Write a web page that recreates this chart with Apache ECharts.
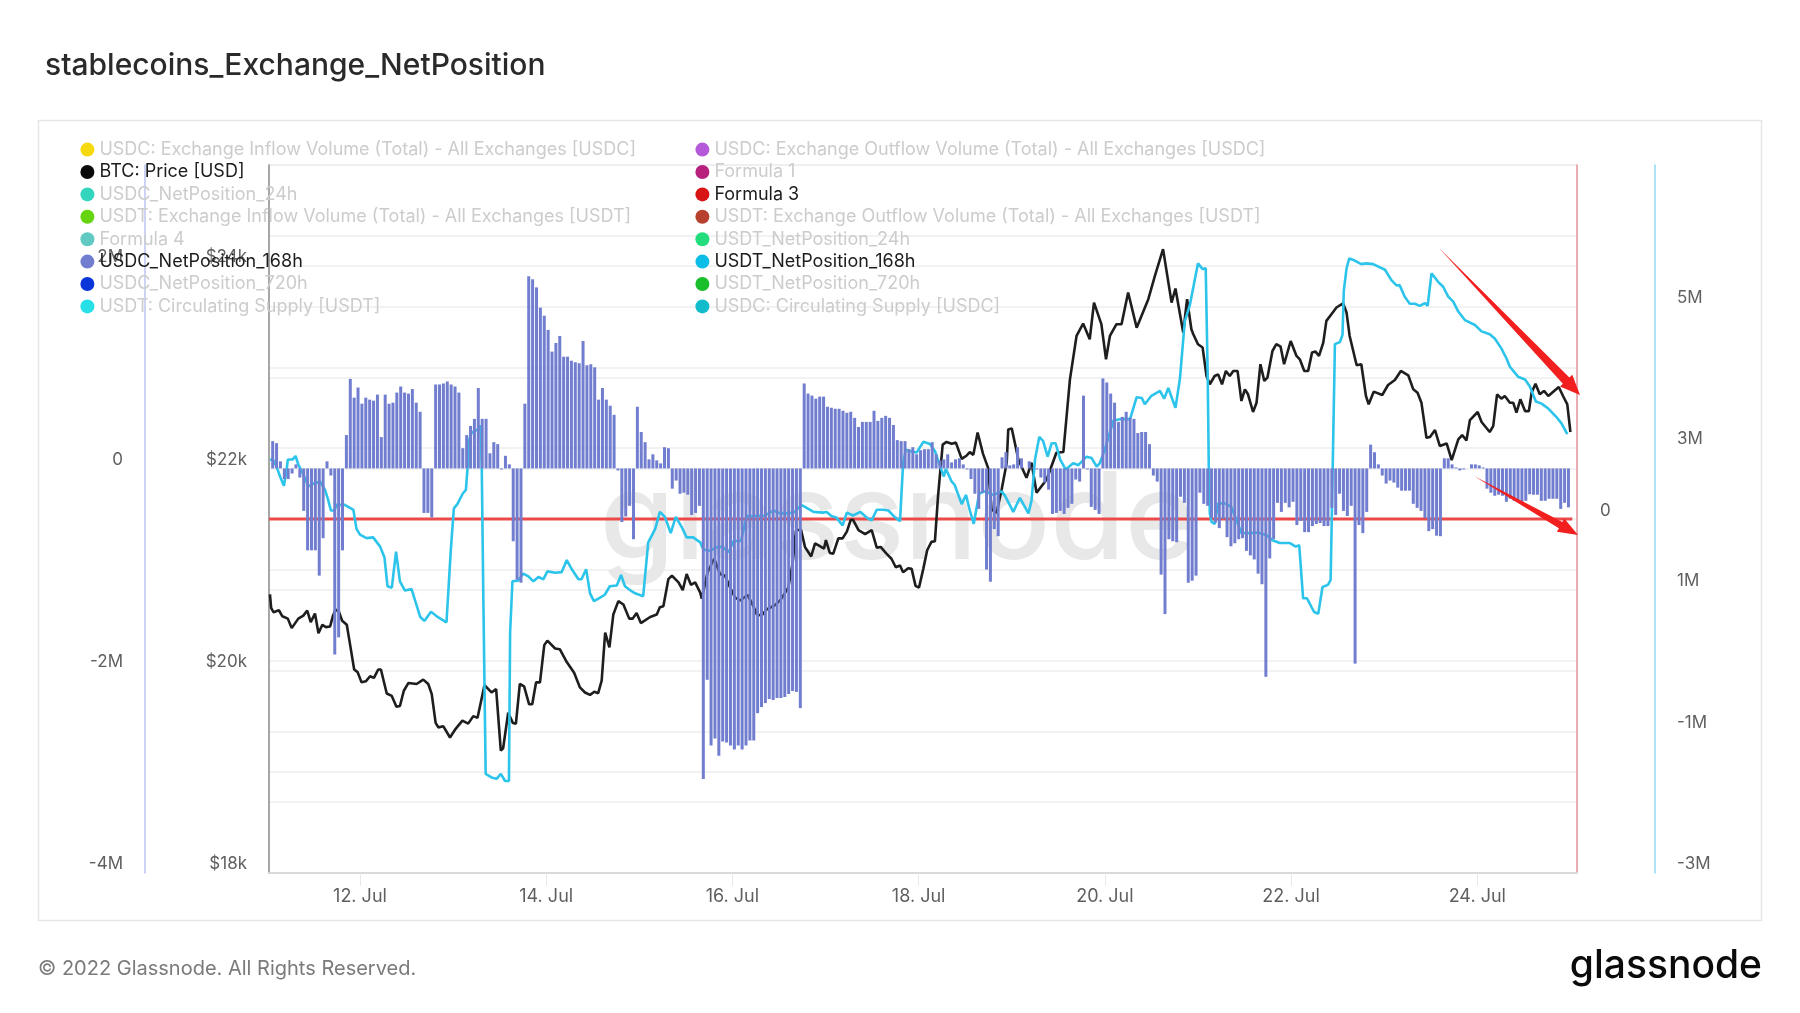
<!DOCTYPE html>
<html>
<head>
<meta charset="utf-8">
<style>html,body{margin:0;padding:0;background:#fff}#c{width:1800px;height:1013px}</style>
<script src="https://cdn.jsdelivr.net/npm/echarts@6/dist/echarts.min.js"></script>
</head>
<body>
<div id="c"></div>
<script>
const titleText = 'stablecoins_Exchange_NetPosition';
const legendLeft = ['USDC: Exchange Inflow Volume (Total) - All Exchanges [USDC]','BTC: Price [USD]','USDC_NetPosition_24h','USDT: Exchange Inflow Volume (Total) - All Exchanges [USDT]','Formula 4','USDC_NetPosition_168h','USDC_NetPosition_720h','USDT: Circulating Supply [USDT]'];
const legendRight = ['USDC: Exchange Outflow Volume (Total) - All Exchanges [USDC]','Formula 1','Formula 3','USDT: Exchange Outflow Volume (Total) - All Exchanges [USDT]','USDT_NetPosition_24h','USDT_NetPosition_168h','USDT_NetPosition_720h','USDC: Circulating Supply [USDC]'];
const legendColorsLeft = ['#f5d90a','#0a0a0a','#33d6bd','#66d40e','#5fc9c2','#6f7fd0','#0a35d8','#27dfe6'];
const legendColorsRight = ['#b45ad8','#b8207e','#d81414','#b8402e','#23dc7c','#0cbde8','#18bf2a','#12bccb'];
const activeNames = ['BTC: Price [USD]','USDC_NetPosition_168h','Formula 3','USDT_NetPosition_168h'];

// USDC_NetPosition_168h, millions, one bar per hour from the first bar
const usdcNet168 = [
.27,.25,.07,-.105,-.105,-.05,.04,-.09,-.42,-.81,
-.81,-.81,-1.06,-.69,.07,-.07,-1.84,-1.67,-.81,.33,
.885,.70,.80,.64,.70,.68,.67,.73,.31,.73,
.64,.65,.75,.81,.75,.74,.785,.65,.56,-.44,
-.44,-.485,.83,.83,.84,.86,.83,.81,.75,.20,
.33,.42,.49,.795,.49,.49,.15,.26,.24,-.01,
.125,.04,-.72,-1.1,-1.13,.64,1.90,1.87,1.79,1.59,
1.51,1.37,1.155,1.24,1.31,1.105,1.105,1.065,1.05,1.04,
1.26,1.02,1.03,1.00,.68,.795,.68,.62,.53,-.02,
-.53,-.475,-.37,-.70,.61,.36,.26,.09,.14,.08,
.05,.21,.2,-.20,-.12,-.25,-.24,-.26,-.46,-.44,
-.37,-3.07,-2.09,-2.74,-2.67,-2.84,-2.70,-2.71,-2.74,-2.78,
-2.74,-2.78,-2.74,-2.69,-2.69,-2.42,-2.36,-2.32,-2.28,-2.29,
-2.27,-2.27,-2.26,-2.23,-2.20,-2.21,-2.37,.84,.74,.72,
.69,.71,.71,.61,.60,.59,.59,.57,.55,.56,
.50,.41,.46,.46,.46,.57,.47,.50,.52,.50,
.43,.28,.27,.27,.19,.21,.14,.18,.19,.19,
.26,.14,.08,.09,.14,.06,.09,.10,.04,-.01,
-.105,-.25,-.40,-.24,-1.0,-1.12,-.60,-.67,.11,.16,
.03,.04,.21,.10,0,.07,.01,-.01,-.09,-.14,
-.21,-.45,-.44,-.42,-.45,-.39,-.35,-.11,-.13,.72,
-.01,-.38,-.41,-.45,.89,.85,.74,.65,.46,.51,
.56,.50,.49,.35,.36,.36,.24,-.07,-.13,-1.05,
-1.44,-.70,-.72,-.73,-.28,-.34,-1.13,-1.11,-1.06,-.24,
-.35,-.37,-.49,-.535,-.59,-.50,-.68,-.77,-.74,-.70,
-.69,-.815,-.86,-.90,-1.04,-1.145,-2.06,-.89,-.70,-.34,
-.43,-.34,-.385,-.33,-.56,-.52,-.63,-.63,-.57,-.55,
-.54,-.57,-.57,-.39,-.46,-.25,-.42,-.47,-.37,-1.93,
-.56,-.64,-.43,.235,.16,.04,-.07,-.15,-.12,-.14,
-.19,-.22,-.22,-.22,-.35,-.39,-.42,-.49,-.62,-.60,
-.665,-.67,.10,.10,.04,.01,-.02,-.01,0,.04,
.04,.03,.01,-.20,-.24,-.27,-.26,-.27,-.33,-.30,
-.32,-.32,-.34,-.32,-.255,-.26,-.26,-.32,-.32,-.30,
-.30,-.30,-.40,-.34,-.385];

// BTC price: hours after the first bar, USD
const btcHours = [-0.7,-0.4,0.2,1.6,2.5,3.9,4.9,6.6,7.9,8.9,9.8,10.9,11.8,12.8,13.7,14.8,15.5,16.2,17.1,17.9,19.1,19.9,21,21.9,22.9,24,25.1,26.1,27.2,27.9,29.4,30.7,31.9,32.8,33.8,35,37.1,38.8,40.1,41,42,42.7,44,45.7,47,48.9,50.4,51.7,52.8,54.6,56.4,57.6,58.8,59.4,60.7,61.9,62.7,63.7,64.8,66.1,66.9,67.9,68.9,70,70.8,72.8,74,75.8,77.7,79.2,80.5,81.8,82.9,83.9,84.8,85.7,86.8,87.8,89.1,90.4,91.9,92.8,93.8,94.9,97.3,99,99.8,100.7,102,102.9,104.6,105.7,106.7,107.8,108.9,110.2,110.6,112.1,113.8,115.3,116.6,117.9,119.2,120.5,122.4,123.9,124.8,126,127.3,129.5,131,132.9,134,134.9,136.2,137.2,138.8,139.8,141.05,142.1,142.6,143.6,144.5,145.8,146.9,148,149,149.6,151,152.7,154.4,155.7,156.7,158.2,159.5,160.6,161.7,162.5,163.8,164.7,165.7,166.6,167.7,168.7,169.8,170.7,171.5,172.7,173.7,175,176.1,177.6,178.9,179.7,180.6,181.7,183.1,184.4,185.3,186.6,187.9,189.2,189.6,190.5,192.2,194.3,195.6,196.9,199.5,202,203.8,205.5,207.2,208.9,210.6,211.7,213.6,214.8,215.8,217.5,218.8,220.5,222.7,225.7,227.4,229.5,231.7,232.7,234.7,235.7,236.8,237.3,238.5,239.7,240.7,241.55,242.8,243.7,244.7,245.7,246.7,247.6,248.7,249.7,250.6,251.4,252.7,253.6,254.6,255.6,256.4,257.7,258.7,259.8,260.7,262.4,263.9,264.75,265.9,266.9,267.9,268.8,269.7,270.8,271.6,272.9,274.2,275.9,276.8,277.6,279.4,280.6,281.8,282.5,283.8,286,287.5,289.25,290.8,292.7,294,295.1,296.1,297.4,298.3,299.6,300.85,302.6,303.9,305.6,306.6,307.7,308.6,310.6,311.6,313.7,314.6,315.6,316.7,317.6,318.9,319.75,320.6,321.6,322.8,323.8,324.5,325.5,326.6,327.7,328.8,331.5,332.6,333.7,334.5];
const btcPrice = [20755,20622,20578,20598,20538,20515,20421,20515,20545,20595,20481,20565,20371,20454,20431,20438,20538,20605,20581,20494,20454,20270,20012,19986,19885,19895,19945,19929,20012,20012,19775,19751,19644,19651,19802,19879,19869,19912,19869,19768,19484,19440,19450,19340,19417,19507,19477,19551,19534,19858,19785,19818,19209,19233,19584,19484,19477,19869,19845,19668,19668,19885,19885,20253,20297,20220,20213,20086,19979,19835,19785,19761,19792,19778,19902,20377,20230,20555,20688,20655,20515,20515,20571,20471,20531,20555,20628,20638,20906,20940,20873,20796,20956,20849,20873,20772,20712,20973,21107,20956,20940,20822,20722,20695,20749,20638,20555,20545,20605,20648,20705,20822,21057,21391,21391,21224,21130,21258,21231,21207,21291,21164,21157,21308,21308,21375,21492,21492,21391,21351,21391,21217,21224,21157,21107,21023,21040,20973,21013,21007,20839,20822,21007,21191,21274,21281,21726,22235,22262,22245,22255,22094,22128,22161,22134,22355,22144,22006,21594,21561,21792,22056,22386,22396,22089,21907,22056,21759,21891,22155,22162,22881,23310,23432,23277,23640,23426,23079,23310,23426,23426,23739,23392,23673,23904,24168,23640,23779,23343,23673,23376,23327,23228,23195,22914,22832,22914,22930,22832,22964,22914,22964,22964,22667,22782,22733,22558,22650,23030,22865,22897,23161,23228,23204,23030,23260,23112,23079,22964,22964,23145,23155,23112,23244,23459,23525,23591,23633,23541,23310,23020,23030,22716,22634,22759,22726,22825,22874,22964,22921,22782,22749,22650,22303,22310,22379,22221,22247,22082,22287,22330,22277,22478,22558,22459,22360,22419,22733,22690,22716,22650,22650,22551,22683,22567,22567,22749,22838,22733,22766,22716,22805,22716,22634,22360];

// USDT_NetPosition_168h: hours after the first bar, millions
const usdtHours = [-0.7,0.2,1,1.9,2.9,3.6,3.9,5.1,5.9,6.6,7.9,9.2,10.9,12.2,13.5,14.3,15,15.9,16.5,18.6,20.8,21.6,22.5,24.2,25.9,27.7,28.8,29.6,30.7,31.8,32.8,34.1,35.8,38,39.1,40.8,42.7,44.8,45.9,46.7,47.6,49,49.8,50.2,50.7,51.3,53,53.6,53.9,54.3,54.9,56.4,57.7,58.8,59.9,60.9,61.2,61.8,63.3,64.6,65.9,67.2,68.5,69.8,70.8,72.8,74.5,75.8,77.1,78.8,79.6,80.8,81.8,82.8,84.4,85.6,86.9,88.7,89.8,90.8,92.5,93.4,95.5,96.8,98.6,99.8,101.1,102.6,103.9,105.4,106.7,108.4,110.2,111,112.7,114.4,115.9,117.5,118.8,120.7,122.2,124.8,126.9,129.1,130.8,132.9,134.6,136.2,137.2,139.4,141.9,142.8,144.1,145.3,146.9,148,149.6,151.5,153.1,154.4,155.7,157.4,158.7,160.1,161.7,162.5,163.2,164.2,166,167.7,169.4,170.7,172,173,173.5,175,175.8,177.6,178.7,179.7,180.7,182.1,183.6,185.7,187.9,188.75,190.9,192.6,194.8,195.6,196.5,197.6,198.6,199.75,200.8,201.8,203,204.4,206.4,207.65,209.8,211.1,212.4,213.2,214.5,216.7,218.4,221,222.7,224,224.8,226.5,228.7,229.8,230.85,232.7,233.85,235.1,236.4,237.4,238.5,239.7,240.5,241,241.3,241.55,242,242.8,243.7,245.4,247.1,248.4,249.7,251.9,254,256.2,257.7,259.6,262.2,263.7,264.6,265.6,266.6,268.4,269.5,270.6,272,272.7,273.2,273.8,275.1,275.75,276.1,276.8,277.5,278.9,280.6,281.9,283.65,284.1,286.7,288.4,289.7,290.5,291.8,293.1,294.4,295.7,297,297.7,298.7,300.4,301.7,303,304.3,305.6,307.3,309.9,311.6,313.7,315,316.7,318,318.9,321,322.8,324.05,325.6,327.05,328.8,330.9,332.2,333.7];
const usdtNet168 = [2.84,2.83,2.74,2.60,2.47,2.70,2.84,2.84,2.89,2.77,2.63,2.46,2.51,2.53,2.41,2.27,2.12,2.12,2.20,2.20,2.13,1.86,1.78,1.73,1.74,1.61,1.46,1.05,1.03,1.54,1.12,.99,1.01,.62,.56,.69,.61,.54,1.55,2.15,2.21,2.36,2.41,2.70,3.13,3.22,3.27,3.32,2.70,.88,-1.6,-1.65,-1.67,-1.60,-1.70,-1.70,.40,1.12,1.13,1.23,1.19,1.12,1.18,1.15,1.26,1.24,1.25,1.42,1.29,1.15,1.15,1.29,.95,.84,.89,.93,1.05,1.06,1.21,1.05,.98,.95,.91,1.67,1.86,2.10,2.03,1.80,2.03,1.89,1.74,1.74,1.67,1.57,1.55,1.60,1.61,1.53,1.69,1.69,2.04,2.04,2.05,2.12,2.08,2.08,2.10,2.20,2.17,2.10,2.09,2.10,2.04,2.02,1.91,2.09,2.05,2.10,2.02,1.98,2.13,2.13,2.12,2.04,1.97,2.79,2.98,2.96,2.94,3.09,3.06,2.96,2.75,2.60,2.71,2.53,2.48,2.21,2.34,2.12,1.93,2.36,2.39,2.34,2.39,2.33,2.10,2.30,2.08,2.26,2.84,3.16,3.10,2.88,3.07,3.07,2.84,2.70,2.79,2.76,2.88,2.86,2.74,2.79,2.98,3.39,3.41,3.41,3.72,3.71,3.62,3.74,3.81,3.70,3.85,3.57,3.98,4.79,5.02,5.30,5.61,5.53,5.54,4.06,2.69,2.08,1.96,1.93,2.22,2.22,2.17,1.99,1.80,1.80,1.81,1.77,1.70,1.66,1.66,1.61,1.63,.88,.88,.69,.66,1.04,1.07,1.14,2.64,4.47,4.50,4.60,5.23,5.54,5.68,5.65,5.60,5.61,5.60,5.59,5.52,5.37,5.30,5.30,5.14,5.04,5.04,5.01,5.05,5.01,5.47,5.35,5.28,5.14,5.07,4.93,4.81,4.74,4.65,4.61,4.55,4.41,4.27,4.15,4.01,3.97,3.87,3.66,3.63,3.56,3.44,3.35,3.20];

const formula3Hours = [-0.95,335];
const formula3Values = [0,0];

const usdcTicks = [-4,-2,0,2];
const priceTicks = [18000,20000,22000,24000];
const formulaTicks = [-2,-1,0,1,2];
const formulaLabels = [0];
const usdtTicks = [-3,-1,1,3,5,7];
const usdtLabels = [-3,-1,1,3,5];
const extraTicks = [0,1,2,3];
const xTickDates = ['2022-07-12','2022-07-14','2022-07-16','2022-07-18','2022-07-20','2022-07-22','2022-07-24'];

const HOUR = 3600000;
const firstBar = Date.UTC(2022,6,11,1,30);
const xTicks = xTickDates.map(d=>(Date.parse(d+'T00:00:00Z')-firstBar)/HOUR);
const pairs = (hs, vs) => hs.map((h,i)=>[h, vs[i]]);

const FONT = 'Inter';
const LBL = '#5f5f5f';
const GRID = '#eeeeee';

function legendData(names){
  return names.map(n=>({name:n,textStyle:{color:activeNames.includes(n)?'#1c1c1c':'#cccccc'}}));
}
function emptySeries(names,colors){
  return names.map((n,i)=>activeNames.includes(n)?null:({name:n,type:'line',data:[],yAxisIndex:0,itemStyle:{color:colors[i]},lineStyle:{color:colors[i]}})).filter(Boolean);
}
function arrow(x0,y0,x1,y1,shaft,head,headLen){
  const L=Math.hypot(x1-x0,y1-y0),ux=(x1-x0)/L,uy=(y1-y0)/L,nx=-uy,ny=ux;
  const bx=x1-ux*headLen,by=y1-uy*headLen;
  const pts=[[x0,y0],[bx+nx*shaft/2,by+ny*shaft/2],[bx+nx*head/2,by+ny*head/2],[x1,y1],[bx-nx*head/2,by-ny*head/2],[bx-nx*shaft/2,by-ny*shaft/2]];
  return {type:'polygon',z:100,silent:true,shape:{points:pts},style:{fill:'#f21f1f'}};
}

const chart = echarts.init(document.getElementById('c'),null,{renderer:'canvas'});
chart.setOption({
  animation:false,
  backgroundColor:'#fff',
  textStyle:{fontFamily:FONT},
  title:{text:titleText,left:40,top:46,textStyle:{fontFamily:FONT,fontSize:30,fontWeight:500,color:'#2a2a2a'}},
  grid:{left:269,right:223,top:165,bottom:140,containLabel:false},
  legend:[
    {left:75.4,top:135.6,orient:'vertical',itemWidth:14,itemHeight:14,itemGap:4.4,icon:'circle',selectedMode:false,z:6,
     textStyle:{fontFamily:FONT,fontSize:18,lineHeight:18},data:legendData(legendLeft)},
    {left:690.4,top:135.6,orient:'vertical',itemWidth:14,itemHeight:14,itemGap:4.4,icon:'circle',selectedMode:false,z:6,
     textStyle:{fontFamily:FONT,fontSize:18,lineHeight:18},data:legendData(legendRight)}
  ],
  xAxis:{type:'value',min:-0.95,max:336.2,
    axisLine:{onZero:false,lineStyle:{color:'#d9d9d9',width:2}},
    axisTick:{show:true,length:13,lineStyle:{color:'#e8e8e8'},customValues:xTicks},
    axisLabel:{color:LBL,fontFamily:FONT,fontSize:18,margin:15,customValues:xTicks,
      formatter:v=>new Date(firstBar+v*HOUR).getUTCDate()+'. Jul'},
    splitLine:{show:false}},
  yAxis:[
    {type:'value',position:'left',offset:124,min:-4,max:3,
     axisLine:{show:true,onZero:false,lineStyle:{color:'#bcc5ee',width:1.5}},
     axisTick:{show:false,customValues:usdcTicks},
     axisLabel:{color:LBL,fontFamily:FONT,fontSize:17,margin:22,verticalAlign:'bottom',lineHeight:18,customValues:usdcTicks,formatter:v=>v===0?'0':v+'M'},
     splitLine:{show:true,lineStyle:{color:GRID,width:1.5}}},
    {type:'value',position:'left',offset:0,min:18000,max:25000,
     axisLine:{show:true,onZero:false,lineStyle:{color:'#8a8a8a',width:1.5}},
     axisTick:{show:false,customValues:priceTicks},
     axisLabel:{color:LBL,fontFamily:FONT,fontSize:17,margin:22,verticalAlign:'bottom',lineHeight:18,customValues:priceTicks,formatter:v=>'$'+(v/1000)+'k'},
     splitLine:{show:false}},
    {type:'value',position:'right',offset:0,min:-2.5,max:2.5,
     axisLine:{show:true,onZero:false,lineStyle:{color:'#ea8f98',width:1.5}},
     axisTick:{show:false,customValues:formulaTicks},
     axisLabel:{color:LBL,fontFamily:FONT,fontSize:17,margin:23,verticalAlign:'bottom',lineHeight:16,customValues:formulaLabels,formatter:v=>String(v)},
     splitLine:{show:true,lineStyle:{color:GRID,width:1.5}}},
    {type:'value',position:'right',offset:78,min:-3,max:7,
     axisLine:{show:true,onZero:false,lineStyle:{color:'#93dcf0',width:1.5}},
     axisTick:{show:false,customValues:usdtTicks},
     axisLabel:{color:LBL,fontFamily:FONT,fontSize:17,margin:22,verticalAlign:'bottom',lineHeight:18,customValues:usdtLabels,formatter:v=>v+'M'},
     splitLine:{show:true,lineStyle:{color:GRID,width:1.5}}},
    {type:'value',position:'left',offset:0,min:-0.5,max:3,
     axisLine:{show:false},axisLabel:{show:false},
     axisTick:{show:false,customValues:extraTicks},
     splitLine:{show:true,lineStyle:{color:GRID,width:1.5}}}
  ],
  series:[
    ...emptySeries(legendLeft,legendColorsLeft),
    ...emptySeries(legendRight,legendColorsRight),
    {name:'Formula 3',type:'line',yAxisIndex:2,z:2,symbol:'none',data:pairs(formula3Hours,formula3Values),
     itemStyle:{color:'#d81414'},lineStyle:{color:'#ec4a4a',width:3}},
    {name:'BTC: Price [USD]',type:'line',yAxisIndex:1,z:2,symbol:'none',data:pairs(btcHours,btcPrice),
     itemStyle:{color:'#0a0a0a'},lineStyle:{color:'#1e1e1e',width:2.6}},
    {name:'USDT_NetPosition_168h',type:'line',yAxisIndex:3,z:2,symbol:'none',data:pairs(usdtHours,usdtNet168),
     itemStyle:{color:'#0cbde8'},lineStyle:{color:'#2cc4ea',width:2.6}},
    {name:'USDC_NetPosition_168h',type:'bar',yAxisIndex:0,z:3,barWidth:3,data:usdcNet168.map((v,i)=>[i,v]),
     itemStyle:{color:'#717ecf'}}
  ],
  graphic:[
    {type:'rect',z:0,silent:true,shape:{x:38.5,y:120.5,width:1723,height:800},style:{fill:'none',stroke:'#e6e6e6',lineWidth:1.5}},
    {type:'text',z:1,silent:true,x:898,y:523,style:{text:'glassnode',fontFamily:FONT,fontSize:121,fontWeight:500,fill:'#e8e8e8',textAlign:'center',textVerticalAlign:'middle'}},
    {type:'text',z:5,silent:true,x:38,y:969,style:{text:'© 2022 Glassnode. All Rights Reserved.',fontFamily:FONT,fontSize:20,fill:'#7a7a7a',textAlign:'left',textVerticalAlign:'middle'}},
    {type:'text',z:5,silent:true,x:1762,y:966,style:{text:'glassnode',fontFamily:FONT,fontSize:39,fontWeight:500,fill:'#0b0b0b',textAlign:'right',textVerticalAlign:'middle'}},
    arrow(1439,248,1580,395,9,17,20),
    arrow(1474,476,1578,535,7,15,20)
  ]
});
</script>
</body>
</html>
